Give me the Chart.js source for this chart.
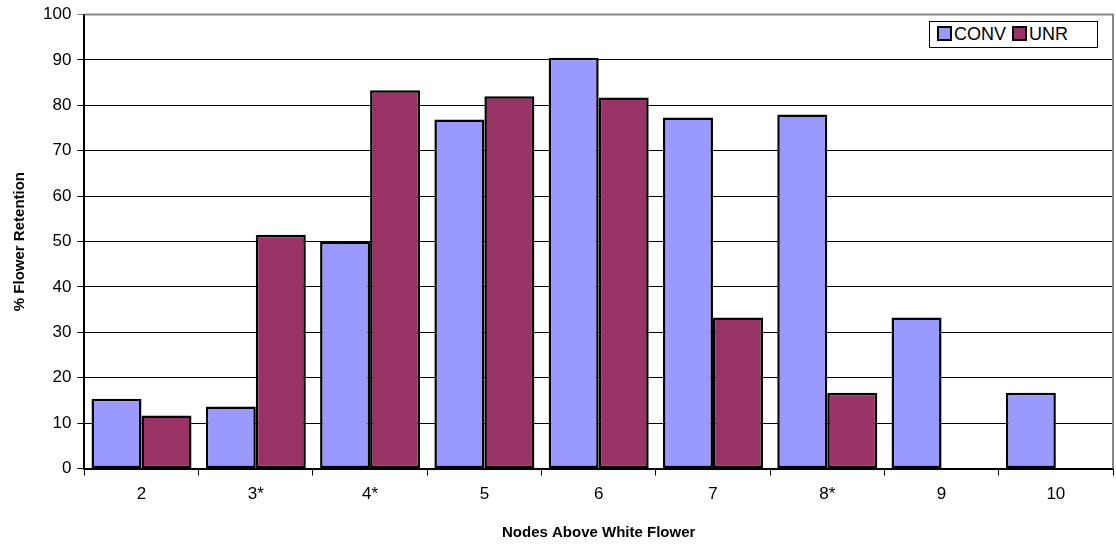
<!DOCTYPE html>
<html>
<head>
<meta charset="utf-8">
<script src="https://cdn.jsdelivr.net/npm/chart.js@4.4.1/dist/chart.umd.min.js"></script>
<style>
    body { margin: 0; background: #fff; }
    #wrap { position: relative; width: 1116px; height: 544px; }
    #legend {
        position: absolute; left: 929px; top: 21px; width: 169px; height: 27px;
        border: 1px solid #000; background: #fff;
        font-family: "Liberation Sans", Arial, sans-serif; font-size: 18px;
        display: flex; align-items: center; padding-left: 7px; box-sizing: border-box;
    }
    #legend span.sw { display: inline-block; width: 11px; height: 11px; border: 2px solid #000; margin-right: 2px; margin-top: -3px; }
    #legend span.lbl { margin-right: 6px; }
</style>
</head>
<body>
<div id="wrap">
    <canvas id="retentionChart" width="1116" height="544"></canvas>
    <div id="legend"></div>
</div>
<script>
const categories = ['2', '3*', '4*', '5', '6', '7', '8*', '9', '10'];
const convValues = [15.4, 13.7, 50.0, 76.9, 90.5, 77.3, 78.0, 33.3, 16.7];
const unrValues = [11.7, 51.5, 83.3, 82.0, 81.7, 33.3, 16.7, 0, 0];
const yTicks = [0, 10, 20, 30, 40, 50, 60, 70, 80, 90, 100];

const datasets = [
    { label: 'CONV', data: convValues, backgroundColor: '#9999FF' },
    { label: 'UNR', data: unrValues, backgroundColor: '#993366' }
];

// html legend with a box round it
const legendEl = document.getElementById('legend');
datasets.forEach(ds => {
    legendEl.innerHTML += `<span class="sw" style="background:${ds.backgroundColor}"></span><span class="lbl">${ds.label}</span>`;
});

// gray frame on top and right of the plot area
const framePlugin = {
    id: 'frame',
    afterDatasetsDraw(chart) {
        const { ctx, chartArea: a } = chart;
        ctx.save();
        ctx.strokeStyle = '#888';
        ctx.lineWidth = 2;
        ctx.beginPath();
        ctx.moveTo(a.left, a.top);
        ctx.lineTo(a.right, a.top);
        ctx.lineTo(a.right, a.bottom);
        ctx.stroke();
        ctx.restore();
    }
};

const ctx = document.getElementById('retentionChart').getContext('2d');
const chart = new Chart(ctx, {
    type: 'bar',
    data: {
        labels: categories,
        datasets: datasets.map(ds => ({
            label: ds.label,
            data: ds.data,
            backgroundColor: ds.backgroundColor,
            borderColor: '#000',
            borderWidth: c => (c.raw === 0 ? 0 : 2.5),
            borderSkipped: false,
            categoryPercentage: 0.875,
            barPercentage: 1.0
        }))
    },
    options: {
        responsive: false,
        animation: false,
        layout: { padding: { top: 0, right: 3, left: 7, bottom: 0 } },
        plugins: {
            legend: { display: false },
            tooltip: { enabled: false }
        },
        scales: {
            x: {
                grid: { offset: true, drawOnChartArea: false, color: '#000', tickLength: 7 },
                border: { color: '#000', width: 2 },
                ticks: { color: '#000', font: { family: 'Liberation Sans', size: 17 }, padding: 9 },
                title: {
                    display: true, text: 'Nodes Above White Flower', color: '#000',
                    font: { family: 'Liberation Sans', size: 15, weight: 'bold' }, padding: { top: 10, bottom: 2 }
                }
            },
            y: {
                min: 0, max: 100,
                afterBuildTicks: axis => { axis.ticks = yTicks.map(v => ({ value: v })); },
                grid: { color: ctx => ctx.tick && ctx.tick.value === 100 ? '#888' : '#000', tickLength: 7 },
                border: { color: '#000', width: 2 },
                ticks: { color: '#000', font: { family: 'Liberation Sans', size: 17, lineHeight: 1.0 }, padding: 6 },
                title: {
                    display: true, text: '% Flower Retention', color: '#000',
                    font: { family: 'Liberation Sans', size: 15, weight: 'bold' }, padding: { bottom: 8 }
                }
            }
        }
    },
    plugins: [framePlugin]
});
</script>
</body>
</html>
